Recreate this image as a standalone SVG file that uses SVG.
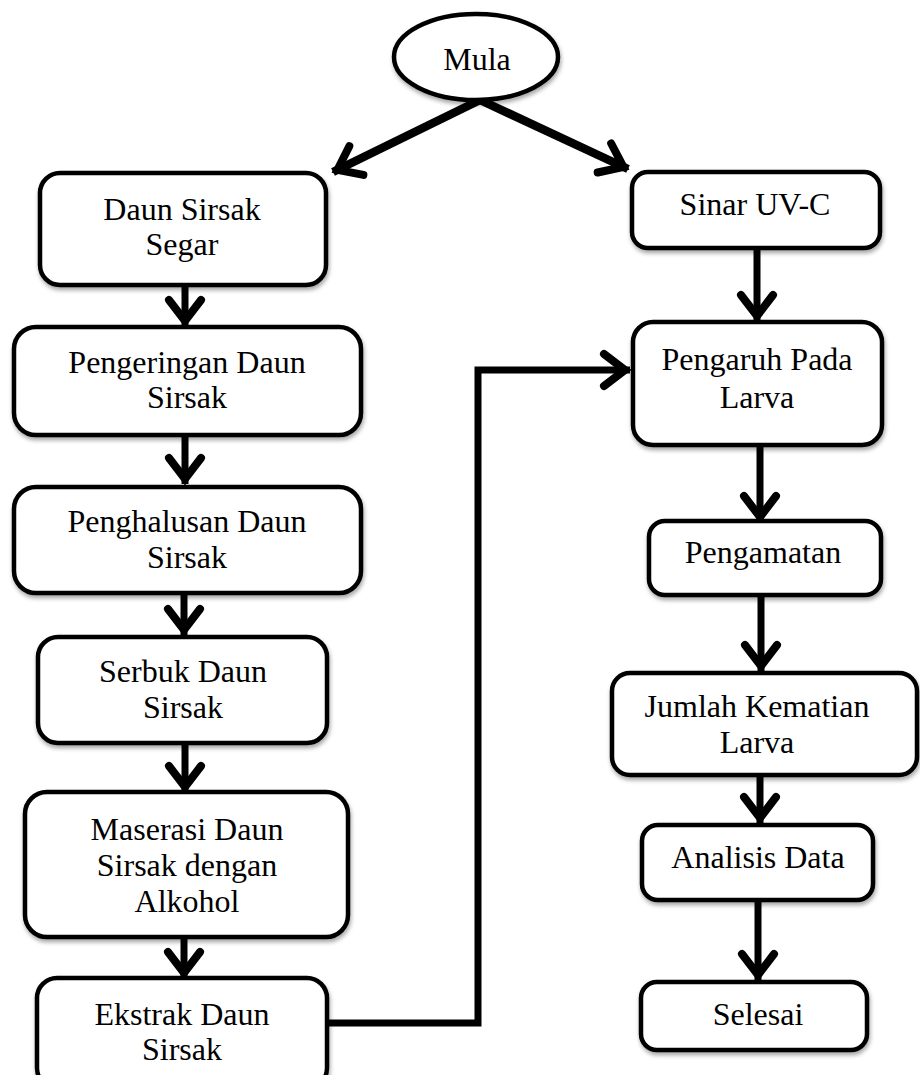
<svg xmlns="http://www.w3.org/2000/svg" width="920" height="1075" viewBox="0 0 920 1075">
<style>
.box{fill:#fff;stroke:#000;stroke-width:4.5;filter:url(#sh)}
.t{font-family:"Liberation Serif","Times New Roman",serif;font-size:32px;fill:#000;text-anchor:middle}
.c{fill:none;stroke:#000;stroke-width:7;marker-end:url(#ah)}
.d{stroke-width:8.5}
</style>
<defs>
<filter id="sh" x="-10%" y="-10%" width="120%" height="130%"><feDropShadow dx="1" dy="3" stdDeviation="2" flood-color="#000" flood-opacity="0.35"/></filter>
<marker id="ah" markerUnits="userSpaceOnUse" markerWidth="40" markerHeight="40" viewBox="-30 -20 40 40" refX="5" refY="0" orient="auto" overflow="visible">
<path d="M-21,-16 L0,0 L-21,16" fill="none" stroke="#000" stroke-width="8" stroke-linecap="round" stroke-linejoin="miter"/>
</marker>
</defs>
<g id="connectors">
<path class="c d" d="M480,100 L333,172"/>
<path class="c d" d="M480,100 L628,169"/>
<path class="c" d="M185,285 V326"/>
<path class="c" d="M185,435 V484"/>
<path class="c" d="M184,593 V635"/>
<path class="c" d="M185,743 V792"/>
<path class="c" d="M184,937 V978"/>
<path class="c" d="M327,1023 H478 V370 H630" stroke-linejoin="miter"/>
<path class="c" d="M757,248 V321"/>
<path class="c" d="M760,445 V522"/>
<path class="c" d="M761,595 V671"/>
<path class="c" d="M760,775 V823"/>
<path class="c" d="M758,900 V980"/>
</g>
<g id="mula"><ellipse class="box" cx="476" cy="57" rx="82" ry="43"/><text class="t" x="477" y="70">Mula</text></g>
<g id="daun-segar"><rect class="box" x="40" y="173" width="286" height="112" rx="20"/><text class="t" x="182" y="220">Daun Sirsak</text><text class="t" x="182" y="255">Segar</text></g>
<g id="pengeringan"><rect class="box" x="14" y="327" width="347" height="108" rx="22"/><text class="t" x="187" y="373">Pengeringan Daun</text><text class="t" x="187" y="408">Sirsak</text></g>
<g id="penghalusan"><rect class="box" x="14" y="487" width="347" height="106" rx="22"/><text class="t" x="187" y="532">Penghalusan Daun</text><text class="t" x="187" y="568">Sirsak</text></g>
<g id="serbuk"><rect class="box" x="38" y="637" width="289" height="106" rx="20"/><text class="t" x="183" y="682">Serbuk Daun</text><text class="t" x="183" y="718">Sirsak</text></g>
<g id="maserasi"><rect class="box" x="25" y="792" width="323" height="145" rx="22"/><text class="t" x="187" y="840">Maserasi Daun</text><text class="t" x="187" y="876">Sirsak dengan</text><text class="t" x="187" y="912">Alkohol</text></g>
<g id="ekstrak"><rect class="box" x="37" y="978" width="290" height="110" rx="20"/><text class="t" x="182" y="1025">Ekstrak Daun</text><text class="t" x="182" y="1060">Sirsak</text></g>
<g id="sinar"><rect class="box" x="632" y="172" width="248" height="76" rx="16"/><text class="t" x="755" y="215">Sinar UV-C</text></g>
<g id="pengaruh"><rect class="box" x="633" y="322" width="249" height="123" rx="20"/><text class="t" x="757" y="370">Pengaruh Pada</text><text class="t" x="757" y="408">Larva</text></g>
<g id="pengamatan"><rect class="box" x="649" y="521" width="232" height="74" rx="16"/><text class="t" x="763" y="563">Pengamatan</text></g>
<g id="jumlah"><rect class="box" x="612" y="673" width="305" height="102" rx="18"/><text class="t" x="757" y="717">Jumlah Kematian</text><text class="t" x="757" y="753">Larva</text></g>
<g id="analisis"><rect class="box" x="642" y="825" width="231" height="75" rx="16"/><text class="t" x="758" y="868">Analisis Data</text></g>
<g id="selesai"><rect class="box" x="641" y="982" width="226" height="68" rx="16"/><text class="t" x="758" y="1025">Selesai</text></g>
</svg>
